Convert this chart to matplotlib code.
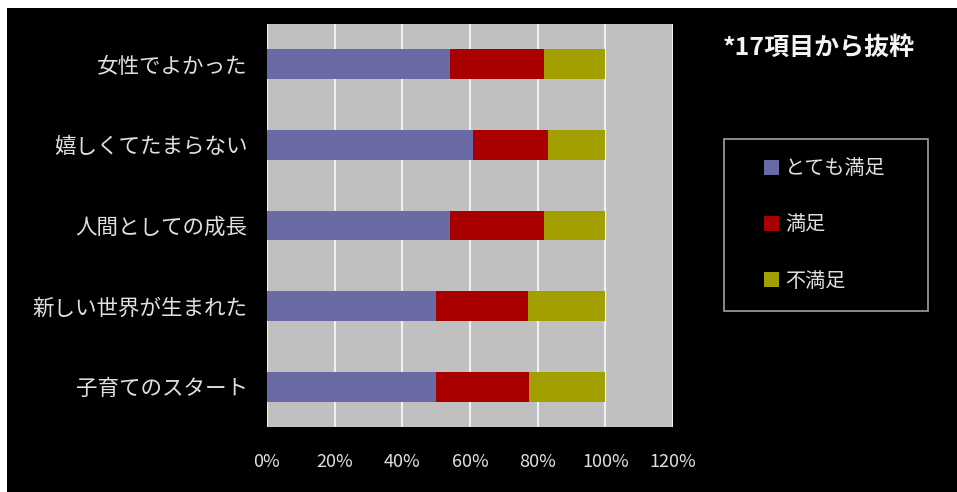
import matplotlib
matplotlib.use("Agg")
import matplotlib.pyplot as plt
from matplotlib.patches import Rectangle, Patch

plt.rcParams['font.family'] = ['Noto Sans CJK JP', 'DejaVu Sans']

categories = ['女性でよかった', '嬉しくてたまらない', '人間としての成長',
              '新しい世界が生まれた', '子育てのスタート']
series_names = ['とても満足', '満足', '不満足']
very_satisfied = [54, 61, 54, 50, 50]
satisfied = [28, 22, 28, 27, 27.5]
unsatisfied = [18, 17, 18, 23, 22.5]
x_ticks = [0, 20, 40, 60, 80, 100, 120]
x_tick_labels = ['0%', '20%', '40%', '60%', '80%', '100%', '120%']
note_text = '*17項目から抜粋'

colors = ['#6a6aa4', '#a80000', '#a2a000']
text_color = '#e0e0e0'

W, H = 957, 492
fig = plt.figure(figsize=(W / 100, H / 100), dpi=100, facecolor='black')
# thin white margin on left and top
fig.patches.append(Rectangle((0, 0), 7 / W, 1, transform=fig.transFigure,
                             facecolor='white', edgecolor='none', zorder=10))
fig.patches.append(Rectangle((0, 1 - 8 / H), 1, 8 / H, transform=fig.transFigure,
                             facecolor='white', edgecolor='none', zorder=10))

ax = fig.add_axes([267 / W, 65 / H, 406 / W, 403 / H])
ax.set_facecolor('#c0c0c0')

ypos = list(range(len(categories)))
left = [0] * len(categories)
series = [very_satisfied, satisfied, unsatisfied]
for name, vals, c in zip(series_names, series, colors):
    ax.barh(ypos, vals, left=left, height=0.37, color=c, label=name, zorder=3)
    left = [l + v for l, v in zip(left, vals)]

ax.set_xlim(0, 120)
ax.set_ylim(len(categories) - 0.5, -0.5)
ax.set_xticks(x_ticks)
ax.set_xticklabels(x_tick_labels)
ax.set_yticks(ypos)
ax.set_yticklabels(categories)
ax.xaxis.grid(True, color='#f0f0f0', linewidth=1.5, zorder=1)
ax.set_axisbelow(True)
ax.tick_params(axis='x', length=0, pad=19, labelsize=13, labelcolor=text_color)
ax.tick_params(axis='y', length=0, pad=14, labelsize=15.5, labelcolor=text_color)
for s in ax.spines.values():
    s.set_visible(False)

# note text
fig.text(723 / W, 1 - 48 / H, note_text, color='#f4f4f4', fontsize=18,
         fontweight='bold', ha='left', va='center')

# legend frame
fig.patches.append(Rectangle((724 / W, 1 - 311 / H), 204 / W, 172 / H,
                             transform=fig.transFigure, facecolor='none',
                             edgecolor='#a0a0a0', linewidth=1.2, zorder=2))
handles = [Patch(facecolor=c, edgecolor='none') for c in colors]
leg = fig.legend(handles, series_names, loc='center',
                 bbox_to_anchor=(825 / W, 1 - 225 / H), frameon=False,
                 fontsize=14.5, labelcolor=text_color, handlelength=0.75,
                 handleheight=0.75, handletextpad=0.3, labelspacing=1.75)

fig.savefig('out.png', dpi=100, facecolor=fig.get_facecolor())
